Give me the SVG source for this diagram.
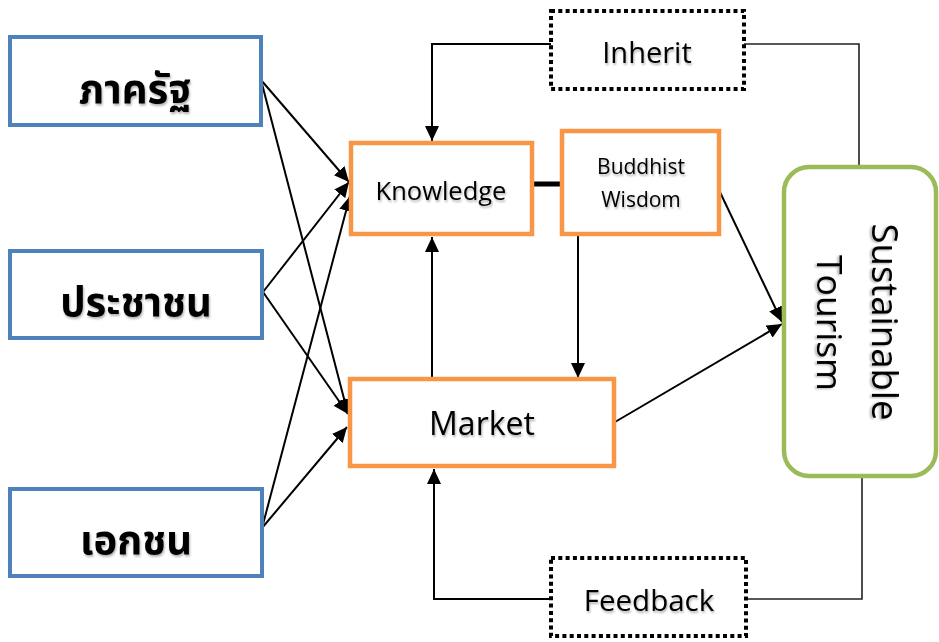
<svg xmlns="http://www.w3.org/2000/svg" width="939" height="642" viewBox="0 0 939 642">
<defs>
<style>
.blue{fill:#fff;stroke:#4F81BD;stroke-width:4}
.orange{fill:#fff;stroke:#F79646;stroke-width:4.5}
.green{fill:#fff;stroke:#9BBB59;stroke-width:4.5}
.dot{fill:#fff;stroke:#000;stroke-width:4;stroke-dasharray:4 3.3}
.th{font-family:"Noto Sans Thai","Noto Sans","DejaVu Sans",sans-serif;font-weight:bold;font-size:40px;fill:#000;text-anchor:middle}
.en{font-family:"Open Sans","Noto Sans",sans-serif;fill:#000;text-anchor:middle}
.ln{fill:none;stroke:#000;stroke-width:2}
.lt{fill:none;stroke:#222;stroke-width:1.6}
</style>
<marker id="ah" viewBox="0 0 15 14" refX="15" refY="7" markerWidth="15" markerHeight="14" markerUnits="userSpaceOnUse" orient="auto">
<path d="M0,0 L15,7 L0,14 Z" fill="#000"/>
</marker>
<filter id="sh" x="-10%" y="-10%" width="120%" height="130%">
<feDropShadow dx="1" dy="2" stdDeviation="1" flood-color="#000" flood-opacity="0.3"/>
</filter>
</defs>

<g id="connectors">
<line class="ln" x1="261" y1="80" x2="349" y2="182" marker-end="url(#ah)"/>
<line class="ln" x1="263" y1="292" x2="349" y2="182" marker-end="url(#ah)"/>
<line class="ln" x1="262" y1="528" x2="350" y2="196" marker-end="url(#ah)"/>
<line class="ln" x1="261" y1="80" x2="348" y2="414" marker-end="url(#ah)"/>
<line class="ln" x1="263" y1="292" x2="348" y2="414" marker-end="url(#ah)"/>
<line class="ln" x1="262" y1="528" x2="347" y2="427" marker-end="url(#ah)"/>
<line class="ln" x1="432" y1="379" x2="432" y2="237" marker-end="url(#ah)"/>
<line x1="530" y1="184" x2="563" y2="184" stroke="#000" stroke-width="5"/>
<line class="ln" x1="578" y1="235" x2="578" y2="378" marker-end="url(#ah)"/>
<line class="ln" x1="718" y1="188" x2="782" y2="322" marker-end="url(#ah)"/>
<line class="ln" x1="615" y1="422" x2="782" y2="324" marker-end="url(#ah)"/>
<polyline class="lt" points="859,167 859,44 744,44"/>
<polyline class="ln" points="551,44 432,44 432,141" marker-end="url(#ah)"/>
<polyline class="lt" points="862,477 862,599 747,599"/>
<polyline class="ln" points="551,599 434,599 434,469" marker-end="url(#ah)"/>
</g>

<g id="n-rat">
<rect class="blue" x="10" y="37" width="251" height="88"/>
<text class="th" x="135" y="103" filter="url(#sh)">ภาครัฐ</text>
</g>
<g id="n-prachachon">
<rect class="blue" x="10" y="251" width="252" height="87"/>
<text class="th" x="136" y="316" filter="url(#sh)">ประชาชน</text>
</g>
<g id="n-ekachon">
<rect class="blue" x="10" y="489" width="252" height="87"/>
<text class="th" x="136" y="554" filter="url(#sh)">เอกชน</text>
</g>

<g id="n-knowledge">
<rect class="orange" x="351" y="143" width="181" height="91"/>
<text class="en" x="441" y="200" font-size="25.5" filter="url(#sh)">Knowledge</text>
</g>
<g id="n-buddhist">
<rect class="orange" x="562" y="131" width="157" height="103"/>
<text class="en" x="641" y="174" font-size="21" filter="url(#sh)">Buddhist</text>
<text class="en" x="641" y="207" font-size="21" filter="url(#sh)">Wisdom</text>
</g>
<g id="n-market">
<rect class="orange" x="350" y="379" width="264" height="87"/>
<text class="en" x="482" y="435" font-size="32" filter="url(#sh)">Market</text>
</g>
<g id="n-sustainable">
<rect class="green" x="784" y="167" width="152" height="309" rx="25"/>
<text class="en" font-size="36.5" transform="translate(872,322) rotate(90)" filter="url(#sh)">Sustainable</text>
<text class="en" font-size="35.5" transform="translate(817,323) rotate(90)" filter="url(#sh)">Tourism</text>
</g>
<g id="n-inherit">
<rect class="dot" x="551" y="11" width="193" height="78"/>
<text class="en" x="647" y="63" font-size="29" filter="url(#sh)">Inherit</text>
</g>
<g id="n-feedback">
<rect class="dot" x="551" y="558" width="195" height="78"/>
<text class="en" x="649" y="611" font-size="29.5" filter="url(#sh)">Feedback</text>
</g>
</svg>
